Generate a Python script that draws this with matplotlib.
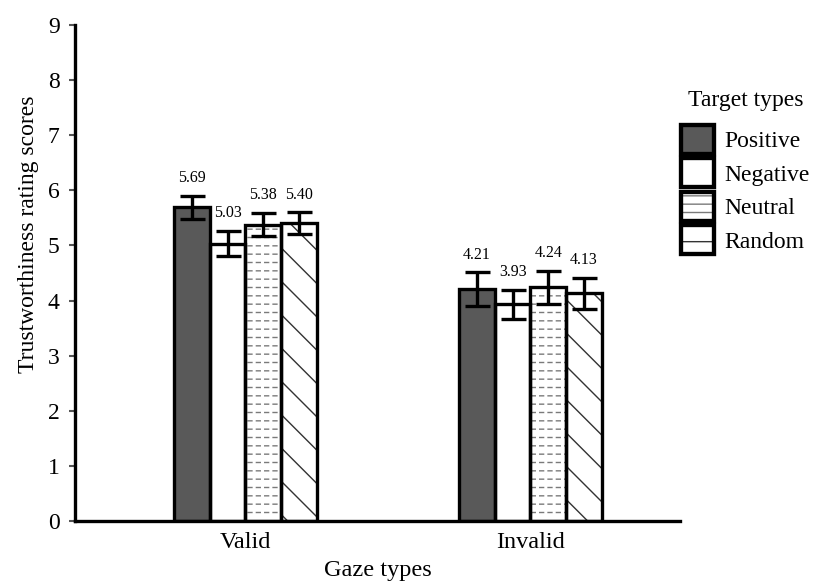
import matplotlib
matplotlib.use("Agg")
import matplotlib.pyplot as plt
import matplotlib.colors as mcolors
from matplotlib.patches import Patch
import numpy as np

plt.rcParams['font.family'] = ['Liberation Serif', 'DejaVu Serif']

gaze_types = ["Valid", "Invalid"]
target_types = ["Positive", "Negative", "Neutral", "Random"]
means = {
    "Positive": [5.69, 4.21],
    "Negative": [5.03, 3.93],
    "Neutral": [5.38, 4.24],
    "Random": [5.40, 4.13],
}
errors = {
    "Positive": [0.21, 0.30],
    "Negative": [0.23, 0.26],
    "Neutral": [0.21, 0.30],
    "Random": [0.20, 0.28],
}
labels = {
    "Positive": ["5.69", "4.21"],
    "Negative": ["5.03", "3.93"],
    "Neutral": ["5.38", "4.24"],
    "Random": ["5.40", "4.13"],
}

styles = {
    "Positive": dict(color="#595959", hatch=None, hcol="black", leg_hatch=None),
    "Negative": dict(color="white", hatch=None, hcol="black", leg_hatch=None),
    "Neutral": dict(color="white", hatch="--", hcol="#7a7a7a", leg_hatch="--"),
    "Random": dict(color="white", hatch="\\", hcol="#333333", leg_hatch="-"),
}


def set_hatch(patch, color, lw):
    patch._hatch_color = mcolors.to_rgba(color)
    if hasattr(patch, "set_hatch_linewidth"):
        patch.set_hatch_linewidth(lw)


fig = plt.figure(figsize=(8.19, 5.81), dpi=100)
ax = fig.add_axes([75/819, 1-521/581, 605/819, (521-25)/581])

x = np.arange(len(gaze_types))
width = 0.125
offsets = (np.arange(len(target_types)) - 1.5) * width
EDGE_LW = 2.4

legend_handles = []
for i, t in enumerate(target_types):
    st = styles[t]
    xpos = x + offsets[i]
    plt.rcParams['hatch.linewidth'] = 1.0
    fill = ax.bar(xpos, means[t], width, color=st["color"], edgecolor="none",
                  hatch=st["hatch"], zorder=2)
    if st["hatch"]:
        for b in fill:
            set_hatch(b, st["hcol"], 1.0)
    if t == "Neutral":
        # break the gray lines into dashes
        plt.rcParams['hatch.linewidth'] = 2.2
        cut = ax.bar(xpos, means[t], width, color="none", edgecolor="none",
                     hatch="||", zorder=2.1)
        for b in cut:
            set_hatch(b, "white", 2.2)
        plt.rcParams['hatch.linewidth'] = 1.0
    ax.bar(xpos, means[t], width, color="none", edgecolor="black",
           linewidth=EDGE_LW, zorder=2.2)
    ax.errorbar(xpos, means[t], yerr=errors[t], fmt="none",
                ecolor="black", elinewidth=2.4, capsize=9, capthick=2.4,
                zorder=3)
    for j in range(len(x)):
        ax.annotate(labels[t][j], (xpos[j], means[t][j] + errors[t][j]),
                    xytext=(0, 7), textcoords="offset points",
                    ha="center", va="bottom", fontsize=11.5)
    h = Patch(facecolor=st["color"], edgecolor="black", linewidth=EDGE_LW * 1.3,
              hatch=st["leg_hatch"])
    if st["leg_hatch"]:
        set_hatch(h, st["hcol"], 1.0)
    legend_handles.append(h)

ax.set_ylim(0, 9)
ax.set_yticks(range(0, 10))
ax.set_xlim(-0.598, 1.525)
ax.set_xticks(x)
ax.set_xticklabels(gaze_types, fontsize=17.5)
ax.tick_params(axis="x", length=0, pad=8)
ax.tick_params(axis="y", labelsize=17, length=4, width=1.5, color="#555555", pad=7)
for s in ["top", "right"]:
    ax.spines[s].set_visible(False)
for s in ["left", "bottom"]:
    ax.spines[s].set_linewidth(2.4)
ax.set_ylabel("Trustworthiness rating scores", fontsize=17)
ax.yaxis.set_label_coords(-0.06, 5.2 / 9)
ax.set_xlabel("Gaze types", fontsize=17.5, labelpad=5)

leg = fig.legend(legend_handles, target_types, loc="upper left",
                 bbox_to_anchor=(681/819, 1-90/581), frameon=False,
                 fontsize=17, title="Target types", title_fontsize=17,
                 handlelength=1.4, handleheight=1.5, labelspacing=0.2,
                 handletextpad=0.45, borderpad=0.0, borderaxespad=0.0)
try:
    leg._legend_box.sep = 10
except Exception:
    pass

fig.savefig("out.png", dpi=100)
